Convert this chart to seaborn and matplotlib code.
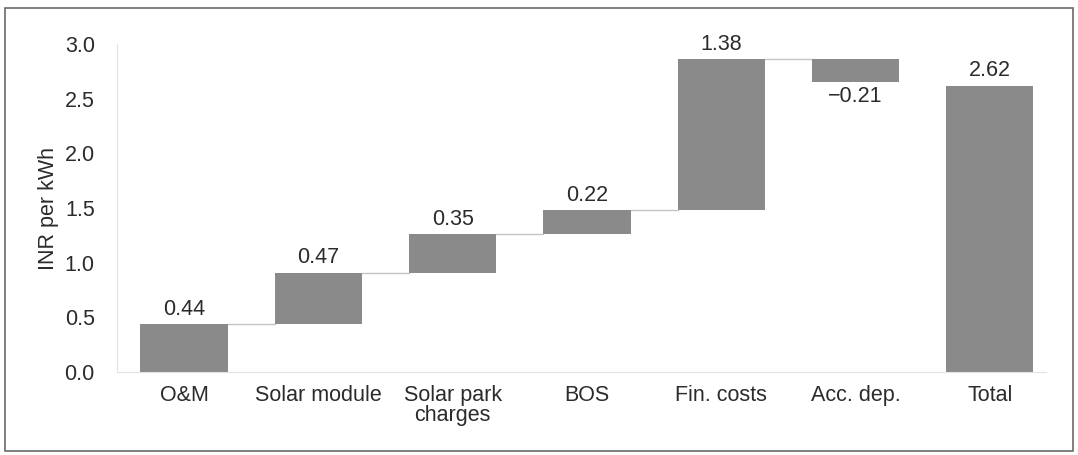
import matplotlib
matplotlib.use("Agg")
import matplotlib.pyplot as plt
import seaborn as sns
import pandas as pd
import numpy as np
from matplotlib.patches import Rectangle

categories = ["O&M", "Solar module", "Solar park\ncharges", "BOS", "Fin. costs", "Acc. dep.", "Total"]
steps = [0.44, 0.47, 0.35, 0.22, 1.38, -0.21]
total = 2.62
labels = ["0.44", "0.47", "0.35", "0.22", "1.38", "\u22120.21", "2.62"]

# waterfall geometry from the values
starts = list(np.concatenate([[0], np.cumsum(steps)[:-1]])) + [0]
heights = steps + [total]
df = pd.DataFrame({"cat": categories, "h": heights})

sns.set_theme(style="white")
plt.rcParams["font.family"] = ["Liberation Sans", "DejaVu Sans"]

fig = plt.figure(figsize=(10.78, 4.55), dpi=100)
ax = fig.add_axes([0.1085, 0.1824, 0.862, 0.7209])

bar_color = "#8a8a8a"
width = 0.65
sns.barplot(data=df, x="cat", y="h", color=bar_color, width=width, saturation=1,
            bottom=starts, ax=ax, errorbar=None, linewidth=0)

fs = 15.5
text_color = "#2b2b2b"
ends = [s + h for s, h in zip(starts, heights)]
for i in range(len(categories)):
    top = max(starts[i], ends[i])
    bot = min(starts[i], ends[i])
    if heights[i] >= 0:
        ax.annotate(labels[i], (i, top), xytext=(0, 3), textcoords="offset points",
                    ha="center", va="bottom", fontsize=fs, color=text_color)
    else:
        ax.annotate(labels[i], (i, bot), xytext=(0, -3), textcoords="offset points",
                    ha="center", va="top", fontsize=fs, color=text_color)

# connector lines
for i in range(len(steps) - 1):
    y = ends[i]
    ax.plot([i + width / 2, i + 1 - width / 2], [y, y], color="#c4c4c4", lw=1, zorder=0)

ax.set_xlim(-0.5, 6.42)
ax.set_ylim(0, 3.0)
ax.set_yticks(np.arange(0, 3.01, 0.5))
ax.set_yticklabels([f"{v:.1f}" for v in np.arange(0, 3.01, 0.5)])
ax.set_xlabel("")
ax.set_ylabel("INR per kWh", fontsize=fs, color=text_color, labelpad=4)
ax.tick_params(axis="y", length=0, pad=16, labelsize=fs, labelcolor=text_color)
ax.tick_params(axis="x", length=0, pad=9, labelsize=fs, labelcolor=text_color)
for lab in ax.get_xticklabels():
    lab.set_linespacing(0.95)

for s in ["top", "right"]:
    ax.spines[s].set_visible(False)
for s in ["left", "bottom"]:
    ax.spines[s].set_color("#e2e2e2")
    ax.spines[s].set_linewidth(0.8)

# outer frame of the figure
fig.patches.append(Rectangle((0.005, 0.008), 0.99, 0.975, transform=fig.transFigure,
                             fill=False, edgecolor="#6a6a6a", linewidth=1.2))

fig.savefig("out.png", dpi=100)
